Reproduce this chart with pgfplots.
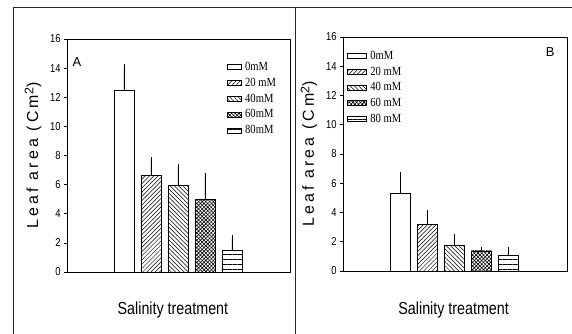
\documentclass[border=0pt]{standalone}
\usepackage{fontspec}
\setmainfont{Liberation Sans}
\newfontfamily\narrowsans[FakeStretch=0.82]{Liberation Sans}
\newfontfamily\legfont[FakeStretch=0.85]{Liberation Serif}
\newfontfamily\ylabfont[LetterSpace=20]{Liberation Sans}
\usepackage{pgfplots}
\pgfplotsset{compat=1.18}
\usetikzlibrary{patterns.meta}

\def\legw{14bp}
\pgfplotsset{
  panel/.style={
    scale only axis,
    ymin=0, ymax=16, ytick={0,2,...,16}, xtick=\empty,
    tick align=outside, ytick pos=left, major tick length=3bp,
    axis line style={draw=black, line width=0.6bp},
    every tick/.style={black, line width=0.6bp},
    yticklabel style={font=\narrowsans\fontsize{11.5}{11.5}\selectfont},
    /pgf/number format/assume math mode=true,
    ylabel={\ylabfont\fontsize{16}{16}\selectfont Leaf area (Cm\raisebox{0.55ex}{\fontsize{12.5}{12.5}\selectfont 2})},
    xlabel={\narrowsans\fontsize{17.5}{17.5}\selectfont Salinity treatment},
    legend cell align=left,
    legend style={draw=none, fill=none, inner sep=0pt,
      font=\legfont\fontsize{12.5}{12.5}\selectfont,
      nodes={inner sep=1bp}, row sep=4bp,
      /tikz/every odd column/.append style={column sep=2.5bp}},
    ybar, bar width=20bp,
  },
  b/.style={bar shift=0pt, draw=black, line width=0.6bp,
    legend image code/.code={\draw[##1] (0bp,-2.5bp) rectangle (\legw,2.5bp);},
    error bars/y dir=plus, error bars/y explicit, error bars/error mark=-,
    error bars/error bar style={black, line width=0.6bp},
    error bars/error mark options={black, mark size=2.2bp, line width=0.8bp}},
}

\begin{document}
\begin{tikzpicture}
\useasboundingbox (0,0) rectangle (572bp,334bp);
\fill[white] (0,0) rectangle (572bp,334bp);
\draw[line width=0.8bp, black!85] (13bp,0) -- (13bp,327bp) -- (572bp,327bp);
\draw[line width=0.8bp, black!85] (295bp,0) -- (295bp,327bp);

% Panel A
\def\legw{14bp}
\begin{axis}[panel, at={(67bp,62bp)}, anchor=south west,
  width=223bp, height=233bp, xmin=-1.11, xmax=7.15,
  ylabel style={at={(axis description cs:-0.152,0.5)}, anchor=center},
  xlabel style={at={(axis description cs:0.475,-0.163)}, anchor=center},
  legend style={at={(axis description cs:0.717,0.905)}, anchor=north west}]
\addplot[b, fill=white] coordinates {(1,12.45) +- (0,1.65)};
\addlegendentry{0mM}
\addplot[b, pattern={Lines[angle=45,distance=3bp,line width=0.5bp]}] coordinates {(2,6.64) +- (0,1.10)};
\addlegendentry{20 mM}
\addplot[b, pattern={Lines[angle=-45,distance=3bp,line width=0.5bp]}] coordinates {(3,5.93) +- (0,1.33)};
\addlegendentry{40mM}
\addplot[b, pattern={Hatch[angle=45,distance=2.6bp,line width=0.6bp]}] coordinates {(4,5.01) +- (0,1.65)};
\addlegendentry{60mM}
\addplot[b, pattern={Lines[angle=0,distance=5bp,line width=0.8bp]}] coordinates {(5,1.46) +- (0,0.90)};
\addlegendentry{80mM}
\node[font=\fontsize{13}{13}\selectfont] at (axis description cs:0.045,0.9) {A};
\end{axis}

% Panel B
\def\legw{19bp}
\begin{axis}[panel, at={(343bp,63bp)}, anchor=south west,
  width=224bp, height=234bp, xmin=-1.15, xmax=7.19,
  ylabel style={at={(axis description cs:-0.152,0.5)}, anchor=center},
  xlabel style={at={(axis description cs:0.494,-0.167)}, anchor=center},
  legend style={at={(axis description cs:0.018,0.945)}, anchor=north west}]
\addplot[b, fill=white] coordinates {(1,5.33) +- (0,1.30)};
\addlegendentry{0mM}
\addplot[b, pattern={Lines[angle=45,distance=3bp,line width=0.5bp]}] coordinates {(2,3.19) +- (0,0.82)};
\addlegendentry{20 mM}
\addplot[b, pattern={Lines[angle=-45,distance=3bp,line width=0.5bp]}] coordinates {(3,1.75) +- (0,0.62)};
\addlegendentry{40 mM}
\addplot[b, pattern={Hatch[angle=45,distance=2.6bp,line width=0.6bp]}] coordinates {(4,1.37) +- (0,0.11)};
\addlegendentry{60 mM}
\addplot[b, pattern={Lines[angle=0,distance=5bp,line width=0.8bp]}] coordinates {(5,1.05) +- (0,0.41)};
\addlegendentry{80 mM}
\node[font=\fontsize{13}{13}\selectfont] at (axis description cs:0.925,0.935) {B};
\end{axis}
\end{tikzpicture}
\end{document}
